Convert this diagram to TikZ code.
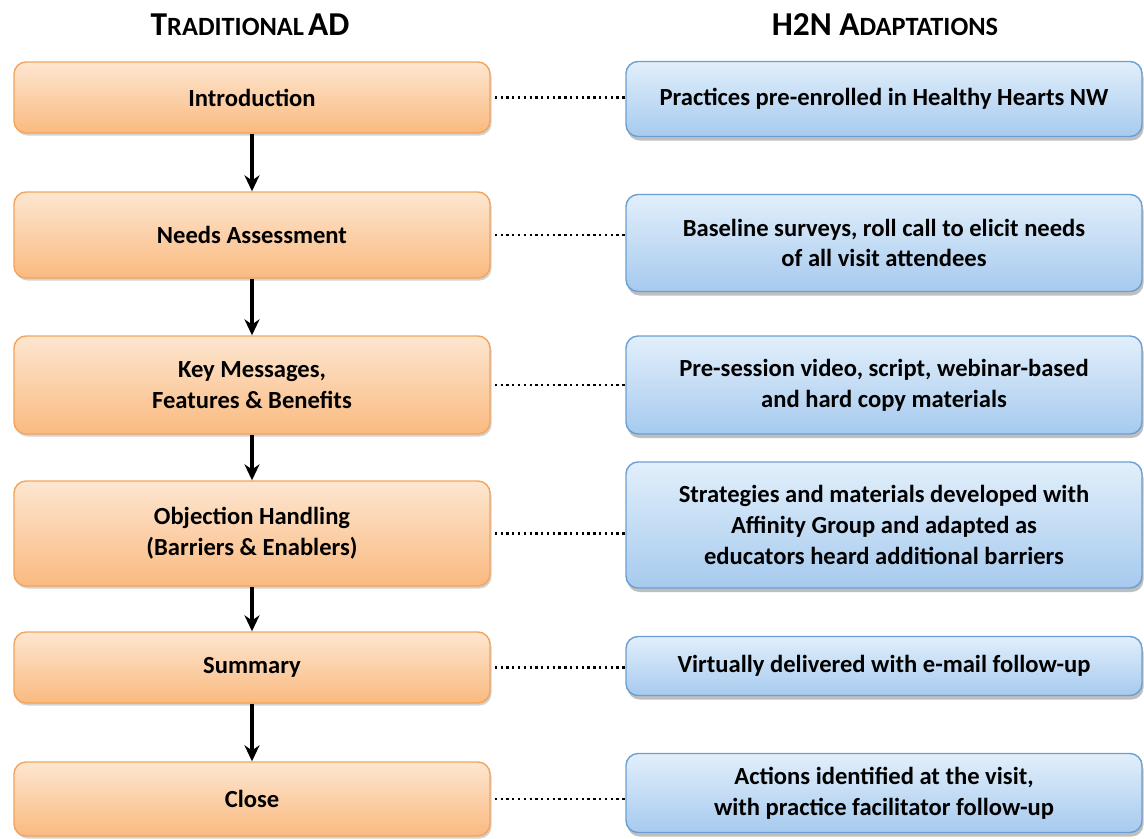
\documentclass[tikz,border=0pt]{standalone}
\usepackage{fontspec}
\setmainfont{Carlito}
\usetikzlibrary{arrows.meta,shadows}

\definecolor{orangetop}{HTML}{FDE6D0}
\definecolor{orangebot}{HTML}{FABA80}
\definecolor{orangeline}{HTML}{F4A45C}
\definecolor{bluetop}{HTML}{E2EFFB}
\definecolor{bluebot}{HTML}{A6CAEE}
\definecolor{blueline}{HTML}{6B9FD3}

\tikzset{
	adbox/.style={draw=orangeline,line width=0.8pt,rounded corners=0.24cm,
		top color=orangetop,bottom color=orangebot,
		drop shadow={shadow xshift=0.03cm,shadow yshift=-0.05cm,opacity=0.35},
		minimum width=9.52cm,align=center,font=\bfseries\fontsize{14}{17.5}\selectfont},
	h2nbox/.style={draw=blueline,line width=0.8pt,rounded corners=0.24cm,
		top color=bluetop,bottom color=bluebot,
		drop shadow={shadow xshift=0.03cm,shadow yshift=-0.08cm,opacity=0.5},
		minimum width=10.32cm,align=center,font=\bfseries\fontsize{14}{17.5}\selectfont},
	header/.style={font=\bfseries},
	stepline/.style={-{Stealth[length=0.32cm,width=0.3cm]},line width=2pt},
	link/.style={dotted,line width=1.3pt,shorten <=0.08cm}
}

\newcommand{\headbig}[1]{{\fontsize{19}{21}\selectfont #1}}
\newcommand{\headsmall}[1]{{\fontsize{15}{21}\selectfont #1}}

\begin{document}
\begin{tikzpicture}

	\useasboundingbox (0,0) rectangle (22.88,-16.76);

	% headers
	\node[header] (lefthead) at (5.0,-0.5) {\headbig{T}\headsmall{RADITIONAL} \headbig{AD}};
	\node[header] (righthead) at (17.7,-0.5) {\headbig{H2N A}\headsmall{DAPTATIONS}};

	% traditional academic detailing steps
	\node[adbox,minimum height=1.42cm] (intro) at (5.04,-1.95) {Introduction};
	\node[adbox,minimum height=1.72cm] (needs) at (5.04,-4.70) {Needs Assessment};
	\node[adbox,minimum height=1.96cm] (key) at (5.04,-7.70) {Key Messages,\\Features \& Benefits};
	\node[adbox,minimum height=2.10cm] (obj) at (5.04,-10.67) {Objection Handling\\(Barriers \& Enablers)};
	\node[adbox,minimum height=1.42cm] (summ) at (5.04,-13.35) {Summary};
	\node[adbox,minimum height=1.48cm] (close) at (5.04,-15.98) {Close};

	% h2n adaptations
	\node[h2nbox,minimum height=1.50cm] (pre) at (17.68,-1.98) {Practices pre-enrolled in Healthy Hearts NW};
	\node[h2nbox,minimum height=1.94cm] (base) at (17.68,-4.86) {Baseline surveys, roll call to elicit needs\\of all visit attendees};
	\node[h2nbox,minimum height=1.96cm] (video) at (17.68,-7.70) {Pre-session video, script, webinar-based\\and hard copy materials};
	\node[h2nbox,minimum height=2.52cm] (strat) at (17.68,-10.50) {Strategies and materials developed with\\Affinity Group and adapted as\\educators heard additional barriers};
	\node[h2nbox,minimum height=1.18cm] (virt) at (17.68,-13.32) {Virtually delivered with e-mail follow-up};
	\node[h2nbox,minimum height=1.58cm] (act) at (17.68,-15.86) {Actions identified at the visit,\\with practice facilitator follow-up};

	% flow
	\foreach \a/\b in {intro/needs,needs/key,key/obj,obj/summ,summ/close}
		\draw[stepline] (\a) -- (\b);

	% links
	\foreach \a/\b in {intro/pre,needs/base,key/video,obj/strat,summ/virt,close/act}
		\draw[link] (\a.east) -- (\a.east -| \b.west);

\end{tikzpicture}
\end{document}
